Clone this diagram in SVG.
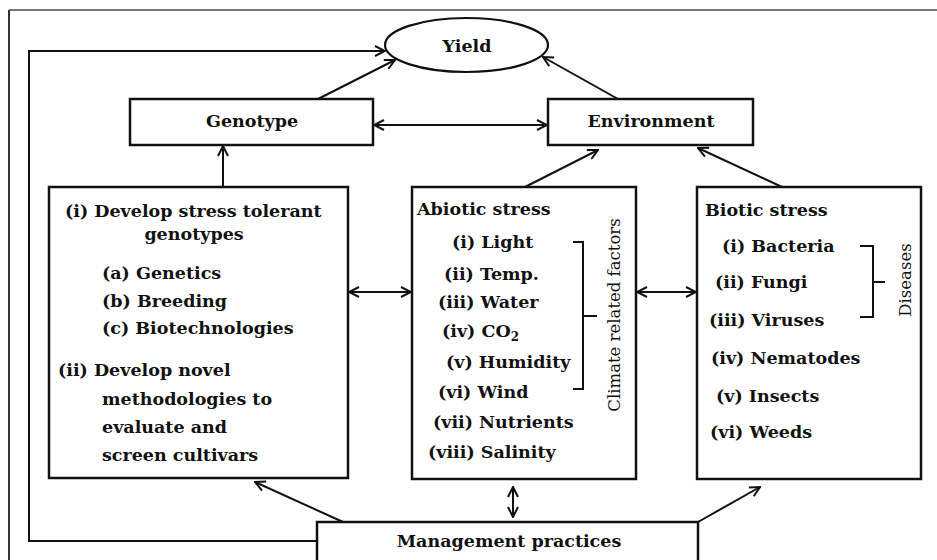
<svg xmlns="http://www.w3.org/2000/svg" width="937" height="560" viewBox="0 0 937 560">
<defs>
<marker id="ah" markerUnits="userSpaceOnUse" viewBox="0 0 12 12" refX="11" refY="6" markerWidth="12" markerHeight="12" orient="auto-start-reverse">
<path d="M1,1 L11,6 L1,11" fill="none" stroke="#111" stroke-width="2"/>
</marker>
<style>
.box{fill:#fff;stroke:#111;stroke-width:2.5}
.ln{fill:none;stroke:#111;stroke-width:2}
.t{font-family:"DejaVu Serif","Liberation Serif",serif;font-weight:bold;font-size:17.5px;fill:#111}
.h{font-family:"DejaVu Serif","Liberation Serif",serif;font-weight:bold;font-size:17.5px;fill:#111;text-anchor:middle}
.r{font-family:"DejaVu Serif","Liberation Serif",serif;font-size:16.5px;fill:#111;text-anchor:middle}
</style>
</defs>
<rect x="0" y="0" width="937" height="560" fill="#fff"/>
<g id="frame">
<line x1="9" y1="10" x2="937" y2="10" stroke="#777" stroke-width="2"/>
<line x1="9" y1="10" x2="9" y2="560" stroke="#333" stroke-width="2"/>
</g>
<g id="connectors">
<polyline class="ln" points="317,541 29,541 29,51 385,51" marker-end="url(#ah)"/>
<line class="ln" x1="318" y1="99" x2="395" y2="60" marker-end="url(#ah)"/>
<line class="ln" x1="618" y1="99" x2="543" y2="57" marker-end="url(#ah)"/>
<line class="ln" x1="374" y1="125" x2="547" y2="125" marker-start="url(#ah)" marker-end="url(#ah)"/>
<line class="ln" x1="223" y1="187" x2="223" y2="146" marker-end="url(#ah)"/>
<line class="ln" x1="349" y1="292" x2="411" y2="292" marker-start="url(#ah)" marker-end="url(#ah)"/>
<line class="ln" x1="637" y1="292" x2="696" y2="292" marker-start="url(#ah)" marker-end="url(#ah)"/>
<line class="ln" x1="525" y1="187" x2="598" y2="150" marker-end="url(#ah)"/>
<line class="ln" x1="782" y1="187" x2="698" y2="148" marker-end="url(#ah)"/>
<line class="ln" x1="343" y1="522" x2="255" y2="482" marker-end="url(#ah)"/>
<line class="ln" x1="698" y1="522" x2="760" y2="487" marker-end="url(#ah)"/>
<line class="ln" x1="513" y1="487" x2="513" y2="517" marker-start="url(#ah)" marker-end="url(#ah)"/>
</g>
<g id="yield">
<ellipse cx="466.5" cy="45" rx="81.5" ry="27" fill="#fff" stroke="#111" stroke-width="2.2"/>
<text class="h" x="467" y="52">Yield</text>
</g>
<g id="genotype">
<rect class="box" x="130" y="99" width="243" height="46"/>
<text class="h" x="252" y="127">Genotype</text>
</g>
<g id="environment">
<rect class="box" x="548" y="99" width="205" height="46"/>
<text class="h" x="651" y="127">Environment</text>
</g>
<g id="strategies">
<rect class="box" x="49" y="187" width="299" height="291"/>
<text class="t" x="65" y="217">(i) Develop stress tolerant</text>
<text class="h" x="194" y="240">genotypes</text>
<text class="t" x="102" y="279">(a) Genetics</text>
<text class="t" x="102" y="307">(b) Breeding</text>
<text class="t" x="102" y="334">(c) Biotechnologies</text>
<text class="t" x="58" y="376">(ii) Develop novel</text>
<text class="t" x="102" y="405">methodologies to</text>
<text class="t" x="102" y="433">evaluate and</text>
<text class="t" x="102" y="461">screen cultivars</text>
</g>
<g id="abiotic">
<rect class="box" x="412" y="187" width="224" height="292"/>
<text class="t" x="417" y="215">Abiotic stress</text>
<text class="t" x="452" y="248">(i) Light</text>
<text class="t" x="444" y="280">(ii) Temp.</text>
<text class="t" x="438" y="308">(iii) Water</text>
<text class="t" x="442" y="337">(iv) CO<tspan dy="4" font-size="12">2</tspan></text>
<text class="t" x="446" y="368">(v) Humidity</text>
<text class="t" x="438" y="398">(vi) Wind</text>
<text class="t" x="433" y="428">(vii) Nutrients</text>
<text class="t" x="428" y="458">(viii) Salinity</text>
<polyline class="ln" points="573,242 583,242 583,389 573,389"/>
<line class="ln" x1="583" y1="316" x2="597" y2="316"/>
<text class="r" transform="translate(620,315) rotate(-90)" x="0" y="0">Climate related factors</text>
</g>
<g id="biotic">
<rect class="box" x="697" y="187" width="224" height="292"/>
<text class="t" x="705" y="216">Biotic stress</text>
<text class="t" x="722" y="252">(i) Bacteria</text>
<text class="t" x="715" y="288">(ii) Fungi</text>
<text class="t" x="709" y="326">(iii) Viruses</text>
<text class="t" x="711" y="364">(iv) Nematodes</text>
<text class="t" x="716" y="402">(v) Insects</text>
<text class="t" x="710" y="438">(vi) Weeds</text>
<polyline class="ln" points="860,246 873,246 873,317 860,317"/>
<line class="ln" x1="873" y1="282" x2="885" y2="282"/>
<text class="r" transform="translate(911,280) rotate(-90)" x="0" y="0">Diseases</text>
</g>
<g id="management">
<rect class="box" x="317" y="522" width="381" height="45"/>
<text class="h" x="509" y="547">Management practices</text>
</g>
</svg>
